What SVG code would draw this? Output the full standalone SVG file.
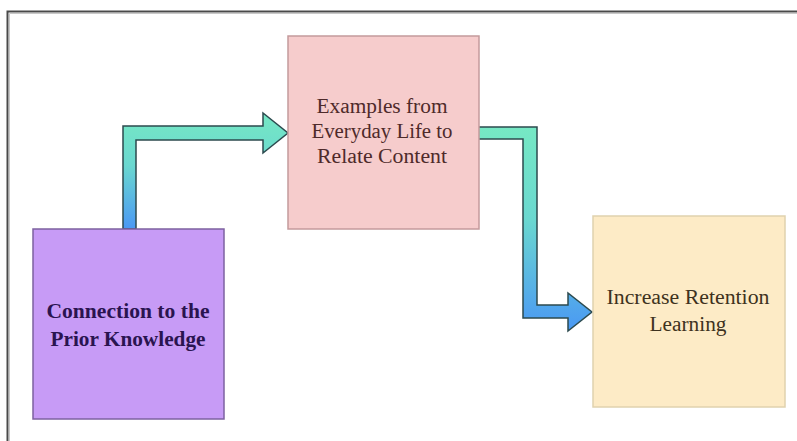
<svg xmlns="http://www.w3.org/2000/svg" width="797" height="441" viewBox="0 0 797 441">
<defs>
<linearGradient id="arrowGrad" x1="0" y1="0" x2="0" y2="1">
<stop offset="0" stop-color="#76e8c4"/>
<stop offset="0.45" stop-color="#6ad8d0"/>
<stop offset="1" stop-color="#4a98f4"/>
</linearGradient>
<style>
.arrow{fill:url(#arrowGrad);stroke:#2c4a4e;stroke-width:1.5;stroke-linejoin:miter}
.txt{font-family:'Liberation Serif','Times New Roman',serif;text-anchor:middle}
</style>
</defs>
<rect x="0" y="0" width="797" height="441" fill="#ffffff"/>
<g id="frame">
<path d="M7.5,441 V11.5 H797" fill="none" stroke="#4a4a4a" stroke-width="2"/>
<path d="M9.5,441 V13.5 H797" fill="none" stroke="#c8c8c8" stroke-width="1"/>
</g>
<g id="connectors">
<polygon class="arrow" points="123,229 123,126 263,126 263,113 288,133 263,153 263,140 136,140 136,229"/>
<polygon class="arrow" points="478,127 537,127 537,305 568,305 568,293 592,312 568,331 568,318 523,318 523,139 478,139"/>
</g>
<g id="node-prior">
<rect x="33" y="229" width="191" height="190" fill="#c79bf6" stroke="#7d62a0" stroke-width="1.5"/>
<text class="txt" x="128" y="318" font-size="21" font-weight="bold" fill="#2a1450" textLength="163" lengthAdjust="spacingAndGlyphs">Connection to the</text>
<text class="txt" x="128" y="346" font-size="21" font-weight="bold" fill="#2a1450" textLength="155" lengthAdjust="spacingAndGlyphs">Prior Knowledge</text>
</g>
<g id="node-examples">
<rect x="288" y="36" width="191" height="193" fill="#f6cccc" stroke="#c49a9c" stroke-width="1.5"/>
<text class="txt" x="382" y="113" font-size="20" fill="#4e2a2a" textLength="131" lengthAdjust="spacingAndGlyphs">Examples from</text>
<text class="txt" x="382" y="138" font-size="20" fill="#4e2a2a" textLength="141" lengthAdjust="spacingAndGlyphs">Everyday Life to</text>
<text class="txt" x="382" y="163" font-size="20" fill="#4e2a2a" textLength="130" lengthAdjust="spacingAndGlyphs">Relate Content</text>
</g>
<g id="node-retention">
<rect x="593" y="216" width="192" height="191" fill="#fdebc6" stroke="#e0d2ae" stroke-width="1.5"/>
<text class="txt" x="688" y="304" font-size="20" fill="#3e3220" textLength="163" lengthAdjust="spacingAndGlyphs">Increase Retention</text>
<text class="txt" x="688" y="331" font-size="20" fill="#3e3220" textLength="77" lengthAdjust="spacingAndGlyphs">Learning</text>
</g>
</svg>
